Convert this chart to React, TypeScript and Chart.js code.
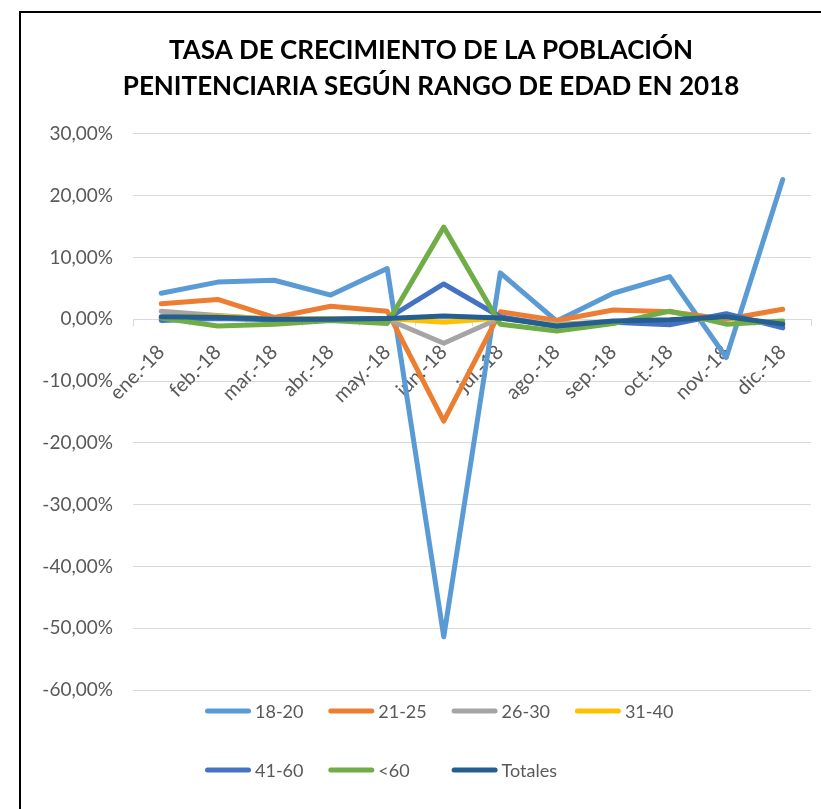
import React, { useEffect, useRef } from 'react';
import { Chart, registerables } from 'chart.js';

Chart.register(...registerables);

// ---- data ----
const months = ['ene.-18', 'feb.-18', 'mar.-18', 'abr.-18', 'may.-18', 'jun.-18', 'jul.-18', 'ago.-18', 'sep.-18', 'oct.-18', 'nov.-18', 'dic.-18'];
const s18_20 = [4.2, 6.0, 6.3, 3.9, 8.2, -51.4, 7.5, -0.3, 4.2, 6.9, -6.2, 22.6];
const s21_25 = [2.5, 3.2, 0.3, 2.1, 1.3, -16.5, 1.2, -0.2, 1.5, 1.2, 0.0, 1.6];
const s26_30 = [1.3, 0.6, 0.0, 0.0, 0.0, -3.9, 0.2, -0.8, -0.4, -0.3, 0.3, -0.9];
const s31_40 = [0.3, 0.5, 0.0, 0.1, 0.1, -0.5, 0.2, -1.0, -0.4, -0.3, 0.3, -0.9];
const s41_60 = [-0.2, 0.1, -0.1, 0.0, 0.1, 5.7, 0.4, -1.2, -0.5, -0.9, 0.9, -1.4];
const sMas60 = [0.2, -1.1, -0.8, -0.2, -0.7, 14.9, -0.8, -1.9, -0.7, 1.3, -0.8, -0.3];
const sTotales = [0.4, 0.3, 0.0, 0.0, 0.1, 0.5, 0.2, -1.1, -0.3, -0.1, 0.4, -0.8];

const seriesNames = ['18-20', '21-25', '26-30', '31-40', '41-60', '<60', 'Totales'];
const seriesValues = [s18_20, s21_25, s26_30, s31_40, s41_60, sMas60, sTotales];
const seriesColors = ['#5B9BD5', '#ED7D31', '#A5A5A5', '#FFC000', '#4472C4', '#70AD47', '#255E91'];

const yMin = -60;
const yMax = 30;
const yStep = 10;

const titleLines = ['TASA DE CRECIMIENTO DE LA POBLACIÓN', 'PENITENCIARIA SEGÚN RANGO DE EDAD EN 2018'];

// ---- layout ----
const FRAME_LEFT = 20;
const FRAME_TOP = 12;
const W = 822;
const H = 830;
const AREA_LEFT = 113;
const AREA_RIGHT = 791;
const AREA_BOTTOM = 678;

const FONT = 'Lato, "Open Sans", sans-serif';
const TEXT_COLOR = '#595959';

const legendPlugin = {
  id: 'excelLegend',
  afterDraw(chart: any) {
    const { ctx, chartArea } = chart;
    ctx.save();
    ctx.font = `18px ${FONT}`;
    ctx.textBaseline = 'middle';
    ctx.textAlign = 'left';
    chart.data.datasets.forEach((ds: any, i: number) => {
      const col = i % 4;
      const row = Math.floor(i / 4);
      const x = chartArea.left + 72 + col * 123.3;
      const y = chartArea.bottom + 21 + row * 59;
      ctx.strokeStyle = ds.borderColor;
      ctx.lineWidth = 5;
      ctx.lineCap = 'round';
      ctx.beginPath();
      ctx.moveTo(x + 2.5, y);
      ctx.lineTo(x + 43.5, y);
      ctx.stroke();
      ctx.fillStyle = TEXT_COLOR;
      ctx.fillText(ds.label, x + 50, y + 1);
    });
    ctx.restore();
  },
};

export default function App() {
  const canvasRef = useRef<HTMLCanvasElement | null>(null);

  useEffect(() => {
    const canvas = canvasRef.current;
    if (!canvas) return;
    const n = seriesNames.length;
    const chart = new Chart(canvas, {
      type: 'line',
      data: {
        labels: months,
        datasets: seriesNames.map((name, i) => ({
          label: name,
          data: seriesValues[i],
          borderColor: seriesColors[i],
          backgroundColor: seriesColors[i],
          borderWidth: 5,
          pointRadius: 0,
          pointHoverRadius: 0,
          tension: 0,
          fill: false,
          borderCapStyle: 'round' as const,
          borderJoinStyle: 'round' as const,
          order: n - i,
          yAxisID: 'y',
        })),
      },
      options: {
        responsive: false,
        animation: false,
        devicePixelRatio: 1,
        layout: {
          padding: { left: 0, right: 0, top: 0, bottom: H - AREA_BOTTOM },
        },
        plugins: {
          legend: { display: false },
          tooltip: { enabled: false },
          title: {
            display: true,
            text: titleLines,
            color: '#000000',
            font: { family: FONT, size: 26, weight: 'bold', lineHeight: 1.4 },
            padding: { top: 20, bottom: 29 },
          },
        },
        scales: {
          x: {
            position: { y: 0 } as any,
            offset: true,
            grid: {
              display: true,
              drawOnChartArea: false,
              drawTicks: true,
              tickLength: 6,
              color: '#D9D9D9',
              offset: true,
            },
            border: { display: true, color: '#D9D9D9', width: 1 },
            ticks: {
              autoSkip: false,
              minRotation: 45,
              maxRotation: 45,
              padding: 15,
              color: TEXT_COLOR,
              font: { family: FONT, size: 20 },
            },
            afterFit: (s: any) => {
              s.height = 0;
            },
          },
          y: {
            position: 'left',
            min: yMin,
            max: yMax,
            ticks: {
              stepSize: yStep,
              padding: 20,
              color: TEXT_COLOR,
              font: { family: FONT, size: 19 },
              callback: (v: any) => Number(v).toFixed(2).replace('.', ',') + '%',
            },
            grid: { color: '#D9D9D9', drawTicks: false, lineWidth: 1 },
            border: { display: false },
            afterFit: (s: any) => {
              s.width = AREA_LEFT;
            },
          },
          ySpace: {
            type: 'linear',
            position: 'right',
            display: true,
            ticks: { display: false },
            grid: { display: false, drawTicks: false },
            border: { display: false },
            afterFit: (s: any) => {
              s.width = W - AREA_RIGHT;
            },
          },
        },
      },
      plugins: [legendPlugin],
    });
    return () => chart.destroy();
  }, []);

  return (
    <div
      style={{
        position: 'absolute',
        left: 0,
        top: 0,
        width: 821,
        height: 809,
        overflow: 'hidden',
        background: '#ffffff',
      }}
    >
      <canvas
        ref={canvasRef}
        width={W}
        height={H}
        style={{ position: 'absolute', left: FRAME_LEFT, top: FRAME_TOP, width: W, height: H }}
      />
      <div
        style={{
          position: 'absolute',
          left: FRAME_LEFT - 1,
          top: FRAME_TOP - 1,
          width: 900,
          height: 900,
          border: '2px solid #000',
          pointerEvents: 'none',
        }}
      />
    </div>
  );
}
